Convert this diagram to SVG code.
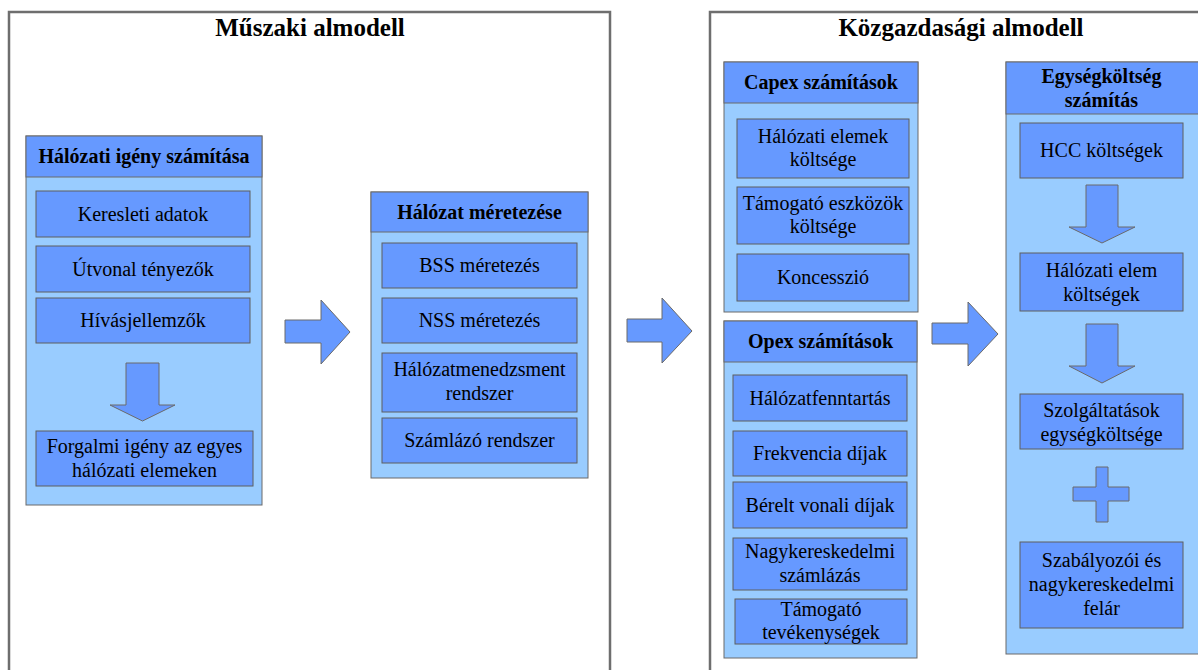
<svg xmlns="http://www.w3.org/2000/svg" width="1198" height="670" viewBox="0 0 1198 670">
<style>
.frame{fill:#fff;stroke:#6e6e6e;stroke-width:2.5}
.panel{fill:#99ccff;stroke:#6a6a6a;stroke-width:1}
.hdr{fill:#6699ff;stroke:#6a6a6a;stroke-width:1}
.box{fill:#6699ff;stroke:#5f5f5f;stroke-width:1}
.arr{fill:#6699ff;stroke:#6a6a6a;stroke-width:1}
text{font-family:"Liberation Serif","Times New Roman",serif;fill:#000;text-anchor:middle}
.title{font-size:25px;font-weight:bold}
.h{font-size:20px;font-weight:bold}
.t{font-size:20px}
</style>
<g id="muszaki-almodell">
<rect class="frame" x="9" y="12" width="601" height="670"/>
<text class="title" x="310" y="36">Műszaki almodell</text>
</g>
<g id="kozgazdasagi-almodell">
<rect class="frame" x="710" y="12" width="502" height="670"/>
<text class="title" x="961" y="36">Közgazdasági almodell</text>
</g>
<g id="halozati-igeny">
<rect class="panel" x="26" y="136" width="236" height="369"/>
<rect class="hdr" x="26" y="136" width="236" height="41"/>
<text class="h" x="144" y="163">Hálózati igény számítása</text>
</g>
<g id="keresleti-adatok">
<rect class="box" x="36" y="191" width="214" height="46"/>
<text class="t" x="143" y="221">Keresleti adatok</text>
</g>
<g id="utvonal-tenyezok">
<rect class="box" x="36" y="246" width="214" height="46"/>
<text class="t" x="143" y="276">Útvonal tényezők</text>
</g>
<g id="hivasjellemzok">
<rect class="box" x="36" y="298" width="214" height="45"/>
<text class="t" x="143" y="327">Hívásjellemzők</text>
</g>
<g id="forgalmi-igeny">
<rect class="box" x="36" y="431" width="217" height="55"/>
<text class="t" x="144.5" y="453">Forgalmi igény az egyes</text>
<text class="t" x="144.5" y="477">hálózati elemeken</text>
</g>
<g id="halozat-meretezese">
<rect class="panel" x="371" y="192" width="217" height="286"/>
<rect class="hdr" x="371" y="192" width="217" height="40"/>
<text class="h" x="479.5" y="219">Hálózat méretezése</text>
</g>
<g id="bss">
<rect class="box" x="382" y="243" width="195" height="45"/>
<text class="t" x="479.5" y="272">BSS méretezés</text>
</g>
<g id="nss">
<rect class="box" x="382" y="298" width="195" height="45"/>
<text class="t" x="479.5" y="327">NSS méretezés</text>
</g>
<g id="halozatmenedzsment">
<rect class="box" x="382" y="353" width="195" height="59"/>
<text class="t" x="479.5" y="376">Hálózatmenedzsment</text>
<text class="t" x="479.5" y="400">rendszer</text>
</g>
<g id="szamlazo">
<rect class="box" x="382" y="418" width="195" height="45"/>
<text class="t" x="479.5" y="447">Számlázó rendszer</text>
</g>
<g id="capex">
<rect class="panel" x="724" y="62" width="194" height="250"/>
<rect class="hdr" x="724" y="62" width="194" height="41"/>
<text class="h" x="821" y="89">Capex számítások</text>
</g>
<g id="halozati-elemek-koltsege">
<rect class="box" x="737" y="119" width="172" height="59"/>
<text class="t" x="823" y="143">Hálózati elemek</text>
<text class="t" x="823" y="166">költsége</text>
</g>
<g id="tamogato-eszkozok">
<rect class="box" x="737" y="187" width="172" height="57"/>
<text class="t" x="823" y="210">Támogató eszközök</text>
<text class="t" x="823" y="233">költsége</text>
</g>
<g id="koncesszio">
<rect class="box" x="737" y="254" width="172" height="47"/>
<text class="t" x="823" y="284">Koncesszió</text>
</g>
<g id="opex">
<rect class="panel" x="724" y="321" width="193" height="337"/>
<rect class="hdr" x="724" y="321" width="193" height="41"/>
<text class="h" x="820.5" y="348">Opex számítások</text>
</g>
<g id="halozatfenntartas">
<rect class="box" x="733" y="375" width="174" height="46"/>
<text class="t" x="820" y="405">Hálózatfenntartás</text>
</g>
<g id="frekvencia">
<rect class="box" x="733" y="431" width="174" height="45"/>
<text class="t" x="820" y="460">Frekvencia díjak</text>
</g>
<g id="berelt">
<rect class="box" x="733" y="482" width="174" height="46"/>
<text class="t" x="820" y="512">Bérelt vonali díjak</text>
</g>
<g id="nagykereskedelmi-szamlazas">
<rect class="box" x="733" y="538" width="174" height="52"/>
<text class="t" x="820" y="558">Nagykereskedelmi</text>
<text class="t" x="820" y="582">számlázás</text>
</g>
<g id="tamogato-tevekenysegek">
<rect class="box" x="735" y="599" width="172" height="45"/>
<text class="t" x="821" y="616">Támogató</text>
<text class="t" x="821" y="639">tevékenységek</text>
</g>
<g id="egysegkoltseg">
<rect class="panel" x="1006" y="62" width="200" height="592"/>
<rect class="hdr" x="1006" y="62" width="200" height="52"/>
<text class="h" x="1101.5" y="83">Egységköltség</text>
<text class="h" x="1101.5" y="107">számítás</text>
</g>
<g id="hcc">
<rect class="box" x="1020" y="123" width="163" height="55"/>
<text class="t" x="1101.5" y="157">HCC költségek</text>
</g>
<g id="halozati-elem-koltsegek">
<rect class="box" x="1020" y="253" width="163" height="58"/>
<text class="t" x="1101.5" y="277">Hálózati elem</text>
<text class="t" x="1101.5" y="301">költségek</text>
</g>
<g id="szolgaltatasok">
<rect class="box" x="1020" y="394" width="163" height="55"/>
<text class="t" x="1101.5" y="417">Szolgáltatások</text>
<text class="t" x="1101.5" y="441">egységköltsége</text>
</g>
<g id="plus">
<polygon class="arr" points="1096,467 1108,467 1108,487 1129,487 1129,501 1108,501 1108,522 1096,522 1096,501 1073,501 1073,487 1096,487"/>
</g>
<g id="szabalyozoi">
<rect class="box" x="1020" y="542" width="163" height="86"/>
<text class="t" x="1101.5" y="567">Szabályozói és</text>
<text class="t" x="1101.5" y="591">nagykereskedelmi</text>
<text class="t" x="1101.5" y="615">felár</text>
</g>
<g id="connectors">
<polygon class="arr" points="126,363 159,363 159,405 175,405 142.5,421 110,405 126,405"/>
<polygon class="arr" points="285,320 321,320 321,300 350,332 321,364 321,343 285,343"/>
<polygon class="arr" points="627,319 662,319 662,298 692,331 662,363 662,342 627,342"/>
<polygon class="arr" points="932,323 968,323 968,302 998,334 968,366 968,344 932,344"/>
<polygon class="arr" points="1086,185 1118,185 1118,227 1135,227 1102,243 1069,227 1086,227"/>
<polygon class="arr" points="1086,324 1118,324 1118,366 1135,366 1102,383 1069,366 1086,366"/>
</g>
</svg>
